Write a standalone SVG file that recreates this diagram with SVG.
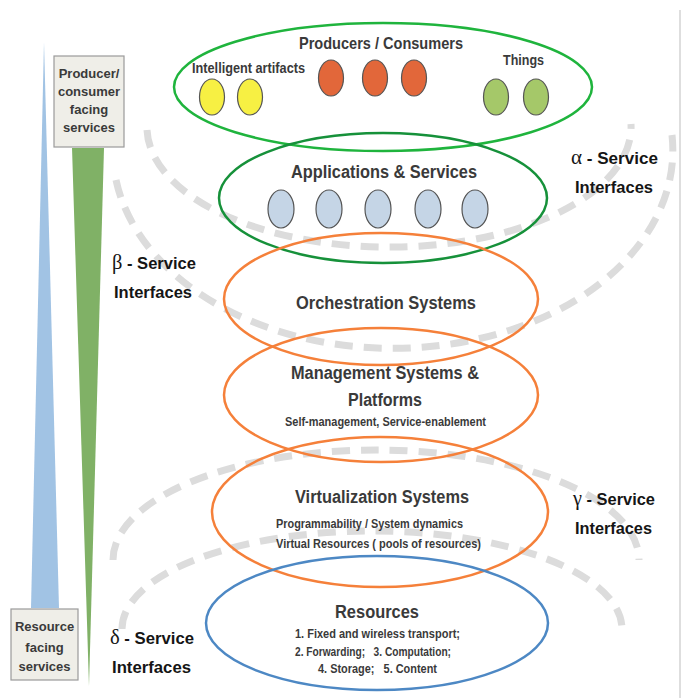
<svg xmlns="http://www.w3.org/2000/svg" width="682" height="698" viewBox="0 0 682 698">
<style>
.arc{fill:none;stroke:#dcdcdc;stroke-width:7;stroke-dasharray:18 11}
.ell{fill:none;stroke-width:2.5}
.b{stroke:#555;stroke-width:1.2}
.t{font-family:"Liberation Sans",Arial,sans-serif;font-weight:bold;fill:#3a3a3a;text-anchor:middle}
.l{font-family:"Liberation Sans",Arial,sans-serif;font-weight:bold;fill:#151515;font-size:17px}
.g{font-family:"Liberation Serif","Times New Roman",serif;font-weight:normal;font-size:21px}
.box{fill:#efeee8;stroke:#9a9a9a;stroke-width:1.2}
</style>
<rect width="682" height="698" fill="#ffffff"/>
<line x1="680" y1="10" x2="680" y2="698" stroke="#bdbdbd" stroke-width="1"/>
<g id="left-bars">
<polygon points="44,42 31,608 59,608" fill="#a1c3e4"/>
<polygon points="72,148 104,148 89,686" fill="#80b166"/>
</g>
<g id="interfaces-arcs">
<path class="arc" d="M147,130 A242,120 0 0 0 631,124"/>
<path class="arc" d="M116,180 A280,198 0 0 0 672,135"/>
<path class="arc" d="M113,560 A263,110 0 0 1 639,560"/>
<path class="arc" d="M122,629 A250,98 0 0 1 622,629"/>
</g>
<g id="producers">
<ellipse class="ell" cx="383" cy="87" rx="209" ry="64" stroke="#1fb43d"/>
<text class="t" x="381" y="49" font-size="17" textLength="164" lengthAdjust="spacingAndGlyphs">Producers / Consumers</text>
<text class="t" x="248.5" y="73" font-size="14" textLength="113" lengthAdjust="spacingAndGlyphs">Intelligent artifacts</text>
<text class="t" x="523.5" y="65" font-size="14" textLength="41" lengthAdjust="spacingAndGlyphs">Things</text>
<ellipse class="b" cx="212" cy="97" rx="12.5" ry="18" fill="#f7f043"/>
<ellipse class="b" cx="250" cy="97" rx="12.5" ry="18" fill="#f7f043"/>
<ellipse class="b" cx="331" cy="78" rx="12.5" ry="18" fill="#e2673a"/>
<ellipse class="b" cx="375" cy="78" rx="12.5" ry="18" fill="#e2673a"/>
<ellipse class="b" cx="414" cy="78" rx="12.5" ry="18" fill="#e2673a"/>
<ellipse class="b" cx="496" cy="97" rx="12.5" ry="18" fill="#a5c869"/>
<ellipse class="b" cx="536" cy="97" rx="12.5" ry="18" fill="#a5c869"/>
</g>
<g id="applications">
<ellipse class="ell" cx="383" cy="198" rx="164" ry="65" stroke="#16913a"/>
<text class="t" x="384" y="178" font-size="18" textLength="186" lengthAdjust="spacingAndGlyphs">Applications &amp; Services</text>
<ellipse class="b" cx="281" cy="209" rx="13" ry="19" fill="#c5d5e6"/>
<ellipse class="b" cx="329" cy="209" rx="13" ry="19" fill="#c5d5e6"/>
<ellipse class="b" cx="378" cy="209" rx="13" ry="19" fill="#c5d5e6"/>
<ellipse class="b" cx="428" cy="209" rx="13" ry="19" fill="#c5d5e6"/>
<ellipse class="b" cx="475" cy="209" rx="13" ry="19" fill="#c5d5e6"/>
</g>
<g id="orchestration">
<ellipse class="ell" cx="381" cy="299" rx="157" ry="66" stroke="#f5803a"/>
<text class="t" x="386" y="309" font-size="18" textLength="180" lengthAdjust="spacingAndGlyphs">Orchestration Systems</text>
</g>
<g id="management">
<ellipse class="ell" cx="381" cy="395" rx="157" ry="67" stroke="#f5803a"/>
<text class="t" x="385" y="379" font-size="18" textLength="188" lengthAdjust="spacingAndGlyphs">Management Systems &amp;</text>
<text class="t" x="385" y="406" font-size="18" textLength="74" lengthAdjust="spacingAndGlyphs">Platforms</text>
<text class="t" x="385.5" y="426" font-size="12" textLength="201" lengthAdjust="spacingAndGlyphs">Self-management, Service-enablement</text>
</g>
<g id="virtualization">
<ellipse class="ell" cx="380" cy="512" rx="168" ry="75" stroke="#f5803a"/>
<text class="t" x="382" y="503" font-size="18" textLength="174" lengthAdjust="spacingAndGlyphs">Virtualization Systems</text>
<text class="t" x="369.5" y="528" font-size="13" textLength="187" lengthAdjust="spacingAndGlyphs">Programmability / System dynamics</text>
<text class="t" x="378.5" y="548" font-size="13" textLength="205" lengthAdjust="spacingAndGlyphs">Virtual Resources ( pools of resources)</text>
</g>
<g id="resources">
<ellipse class="ell" cx="377" cy="623" rx="171" ry="67" stroke="#4d88c4"/>
<text class="t" x="377" y="618" font-size="18" textLength="84" lengthAdjust="spacingAndGlyphs">Resources</text>
<text class="t" x="377.5" y="638" font-size="12" textLength="165" lengthAdjust="spacingAndGlyphs">1. Fixed and wireless transport;</text>
<text class="t" x="373" y="656" font-size="12" textLength="156" lengthAdjust="spacingAndGlyphs" xml:space="preserve">2. Forwarding;   3. Computation;</text>
<text class="t" x="377.5" y="673" font-size="12" textLength="119" lengthAdjust="spacingAndGlyphs" xml:space="preserve">4. Storage;   5. Content</text>
</g>
<g id="producer-box">
<rect class="box" x="54" y="56" width="70" height="91"/>
<text class="t" x="89" y="78" font-size="13" fill="#222">Producer/</text>
<text class="t" x="89" y="96" font-size="13">consumer</text>
<text class="t" x="89" y="114" font-size="13">facing</text>
<text class="t" x="89" y="132" font-size="13">services</text>
</g>
<g id="resource-box">
<rect class="box" x="11" y="609" width="67" height="71"/>
<text class="t" x="44.5" y="631" font-size="13">Resource</text>
<text class="t" x="44.5" y="652" font-size="13">facing</text>
<text class="t" x="44.5" y="671" font-size="13">services</text>
</g>
<g id="labels">
<text class="l" x="571" y="164" textLength="87" lengthAdjust="spacingAndGlyphs"><tspan class="g">α</tspan> - Service</text>
<text class="l" x="575" y="193" textLength="78" lengthAdjust="spacingAndGlyphs">Interfaces</text>
<text class="l" x="112" y="269" textLength="84" lengthAdjust="spacingAndGlyphs"><tspan class="g">β</tspan> - Service</text>
<text class="l" x="114" y="298" textLength="78" lengthAdjust="spacingAndGlyphs">Interfaces</text>
<text class="l" x="573" y="505" textLength="82" lengthAdjust="spacingAndGlyphs"><tspan class="g">γ</tspan> - Service</text>
<text class="l" x="575" y="534" textLength="77" lengthAdjust="spacingAndGlyphs">Interfaces</text>
<text class="l" x="110" y="644" textLength="84" lengthAdjust="spacingAndGlyphs"><tspan class="g">δ</tspan> - Service</text>
<text class="l" x="112" y="673" textLength="79" lengthAdjust="spacingAndGlyphs">Interfaces</text>
</g>
</svg>
